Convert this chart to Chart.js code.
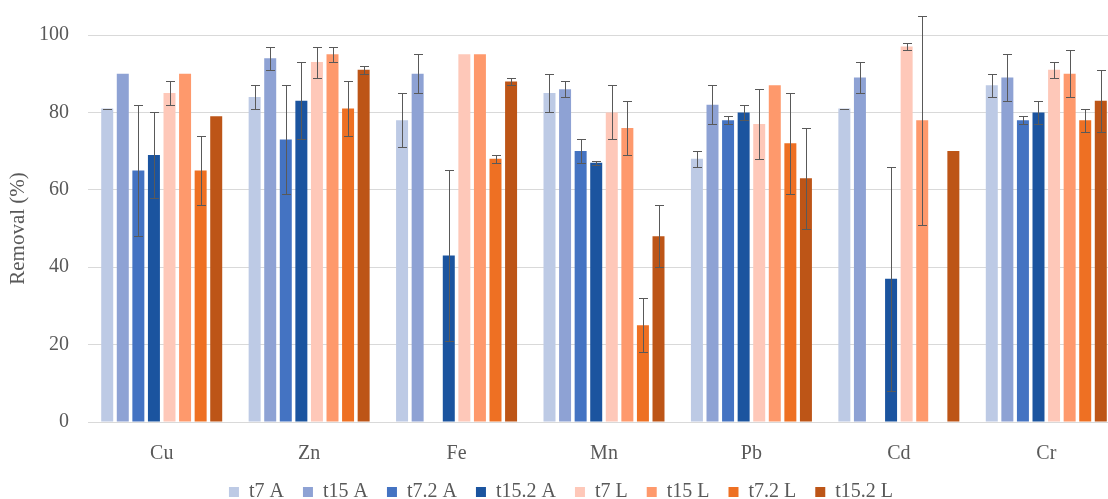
<!DOCTYPE html>
<html>
<head>
<meta charset="utf-8">
<script src="https://cdn.jsdelivr.net/npm/chart.js@4.4.1/dist/chart.umd.min.js"></script>
<style>
  html, body { margin: 0; padding: 0; background: #ffffff; overflow: hidden; }
  #wrap { position: absolute; left: 0; top: 0; width: 1122px; height: 499px; }
</style>
</head>
<body>
<div id="wrap"><canvas id="chart"></canvas></div>
<script>
// Metals on the category axis
const metals = ['Cu', 'Zn', 'Fe', 'Mn', 'Pb', 'Cd', 'Cr'];

// Mean removal (%) per treatment; null = not measured
const t7A    = [81, 84, 78, 85, 68, 81, 87];
const t15A   = [90, 94, 90, 86, 82, 89, 89];
const t72A   = [65, 73, null, 70, 78, null, 78];
const t152A  = [69, 83, 43, 67, 80, 37, 80];
const t7L    = [85, 93, 95, 80, 77, 97, 91];
const t15L   = [90, 95, 95, 76, 87, 78, 90];
const t72L   = [65, 81, 68, 25, 72, null, 78];
const t152L  = [79, 91, 88, 48, 63, 70, 83];

// Standard deviations (± around the mean); null = no error bar
const t7AErr   = [0, 3, 7, 5, 2, 0, 3];
const t15AErr  = [null, 3, 5, 2, 5, 4, 6];
const t72AErr  = [17, 14, null, 3, 1, null, 1];
const t152AErr = [11, 10, 22, 0.5, 2, 29, 3];
const t7LErr   = [3, 4, null, 7, 9, 1, 2];
const t15LErr  = [null, 2, null, 7, null, 27, 6];
const t72LErr  = [9, 7, 1, 7, 13, null, 3];
const t152LErr = [null, 1, 1, 8, 13, null, 8];

// Y-axis tick values
const yTicks = [0, 20, 40, 60, 80, 100];

const seriesNames = ['t7 A', 't15 A', 't7.2 A', 't15.2 A', 't7 L', 't15 L', 't7.2 L', 't15.2 L'];
const seriesValues = [t7A, t15A, t72A, t152A, t7L, t15L, t72L, t152L];
const seriesErrors = [t7AErr, t15AErr, t72AErr, t152AErr, t7LErr, t15LErr, t72LErr, t152LErr];
const seriesColors = ['#BDCAE5', '#8EA2D4', '#4473C2', '#1B549F', '#FEC8B9', '#FE996C', '#EE7023', '#BD5517'];

const textColor = '#595959';
const fontFamily = '"Liberation Serif", "Times New Roman", serif';

// Draws ± error bars with caps on top of every bar
const errorBars = {
  id: 'errorBars',
  afterDatasetsDraw(chart) {
    const ctx = chart.ctx;
    const y = chart.scales.y;
    ctx.save();
    ctx.strokeStyle = '#595959';
    ctx.lineWidth = 1;
    chart.data.datasets.forEach((ds, i) => {
      const meta = chart.getDatasetMeta(i);
      meta.data.forEach((bar, j) => {
        const v = ds.data[j];
        const e = ds.errors[j];
        if (v === null || e === null || e === undefined) return;
        const x = Math.round(bar.x) + 0.5;
        const yTop = Math.round(y.getPixelForValue(v + e)) + 0.5;
        const yBot = Math.round(y.getPixelForValue(v - e)) + 0.5;
        const cap = 4.5;
        ctx.beginPath();
        ctx.moveTo(x, yTop); ctx.lineTo(x, yBot);
        ctx.moveTo(x - cap, yTop); ctx.lineTo(x + cap, yTop);
        ctx.moveTo(x - cap, yBot); ctx.lineTo(x + cap, yBot);
        ctx.stroke();
      });
    });
    ctx.restore();
  }
};

// Keeps the legend row compact so it sits close to the bottom edge
const compactLegend = {
  id: 'compactLegend',
  beforeInit(chart) {
    const legend = chart.legend;
    if (!legend) return;
    const fit = legend.fit;
    legend.fit = function () {
      fit.call(this);
      this.height -= 13;
    };
  }
};

new Chart(document.getElementById('chart'), {
  type: 'bar',
  data: {
    labels: metals,
    datasets: seriesNames.map((name, i) => ({
      label: name,
      data: seriesValues[i],
      errors: seriesErrors[i],
      backgroundColor: seriesColors[i],
      borderWidth: 0,
      categoryPercentage: 0.845,
      barPercentage: 0.77
    }))
  },
  options: {
    responsive: true,
    maintainAspectRatio: false,
    animation: false,
    devicePixelRatio: 1,
    layout: { padding: { top: 35, left: 2, right: 2, bottom: 0 } },
    plugins: {
      tooltip: { enabled: false },
      legend: {
        position: 'bottom',
        labels: {
          boxWidth: 10,
          boxHeight: 10,
          padding: 19,
          color: textColor,
          font: { family: fontFamily, size: 20 }
        }
      }
    },
    scales: {
      x: {
        grid: { display: false, drawTicks: false },
        border: { display: true, color: '#D9D9D9', width: 1 },
        ticks: { color: textColor, padding: 20, font: { family: fontFamily, size: 20 } },
        afterFit(axis) { axis.height -= 23; }
      },
      y: {
        min: 0,
        max: 100,
        afterBuildTicks(axis) { axis.ticks = yTicks.map(v => ({ value: v })); },
        afterFit(axis) { axis.width = 86; },
        grid: { color: '#D9D9D9', lineWidth: 1, drawTicks: false },
        border: { display: false },
        ticks: { color: textColor, padding: 19, font: { family: fontFamily, size: 20 } },
        title: {
          display: true,
          text: 'Removal (%)',
          color: textColor,
          padding: { top: 4, bottom: 4 },
          font: { family: fontFamily, size: 21 }
        }
      }
    }
  },
  plugins: [errorBars, compactLegend]
});
</script>
</body>
</html>
